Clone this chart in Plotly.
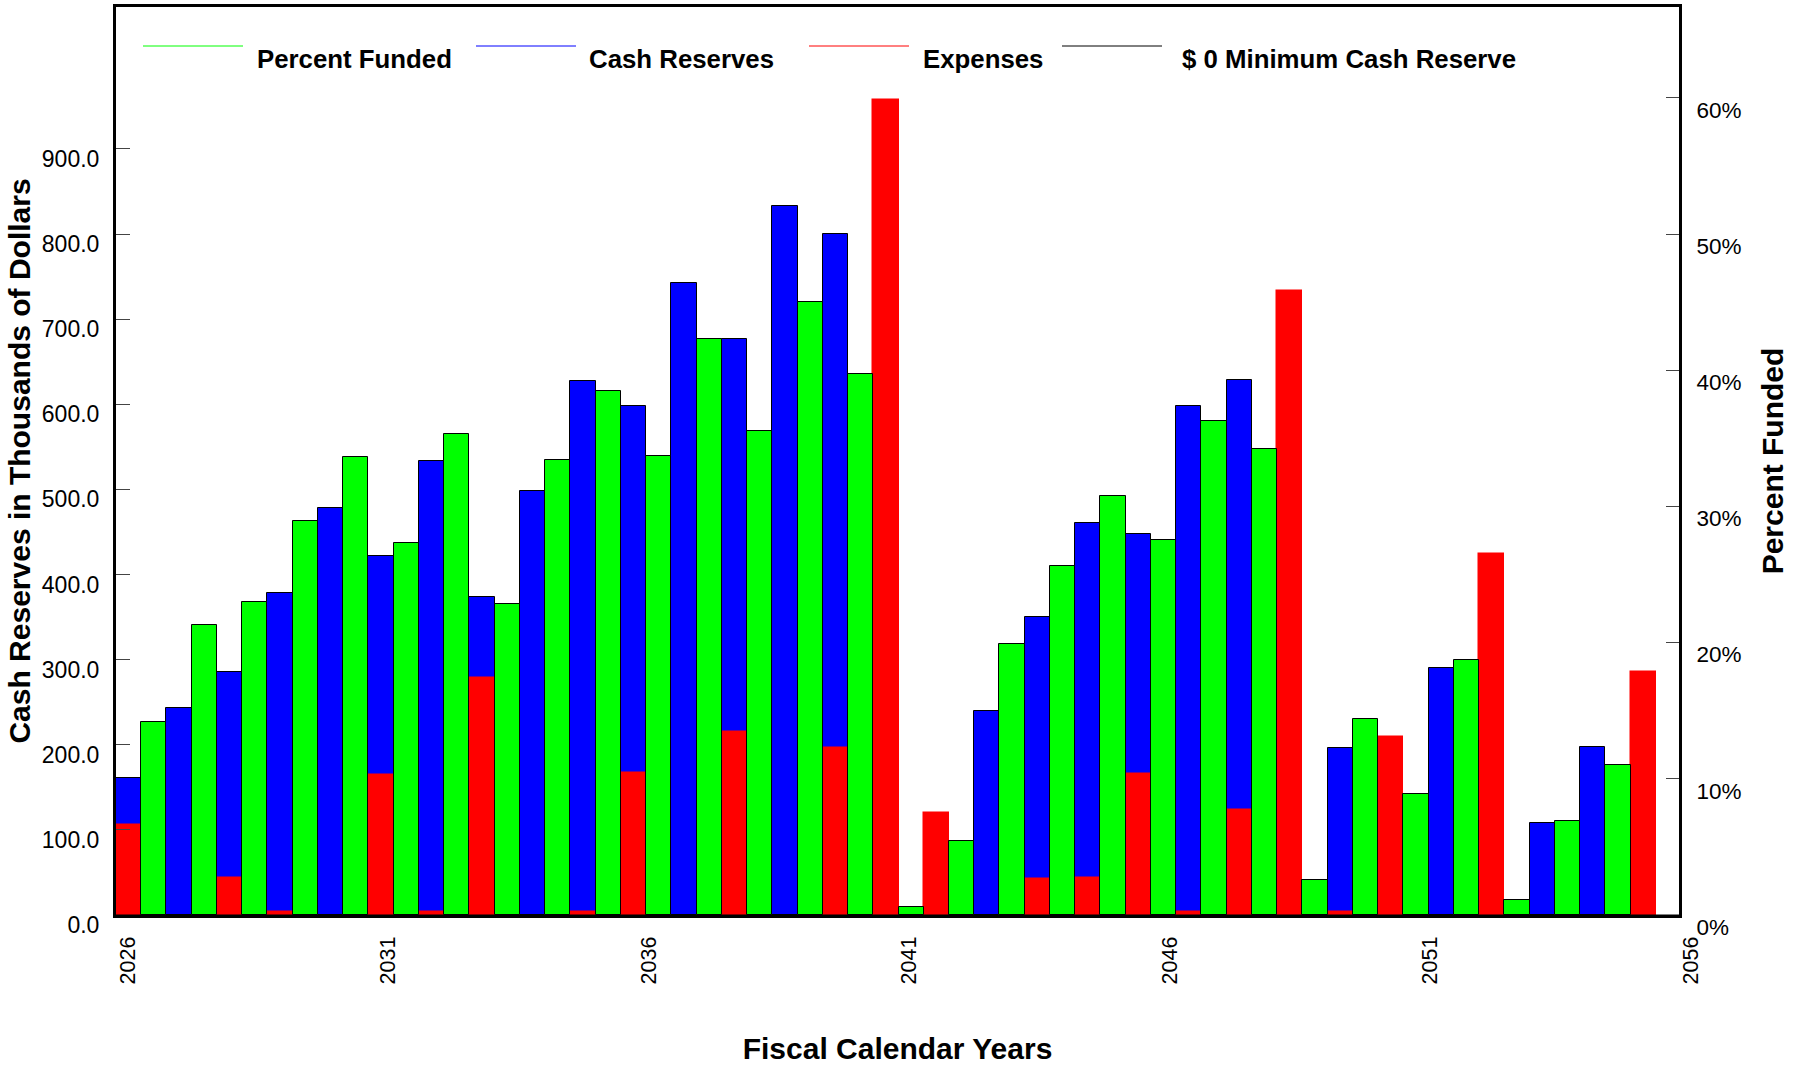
import plotly.graph_objects as go

# ---------------- data ----------------
years = list(range(2026, 2057))          # cash reserves / expenses years
cash_reserves = [161, 243, 286, 378, 478, 422, 533, 374, 498, 627,
                 598, 742, 677, 833, 800, 0, 0, 240, 350, 460,
                 448, 598, 628, 0, 196, 0, 290, 0, 108, 197, 0]
expenses = [106, 0, 44, 3, 0, 164, 3, 279, 0, 3,
            167, 0, 215, 0, 196, 958, 120, 0, 42, 43,
            166, 3, 123, 733, 3, 209, 0, 424, 0, 0, 285]
pf_years = list(range(2026, 2056))
percent_funded = [14.2, 21.3, 23.0, 28.9, 33.6, 27.3, 35.3, 22.8, 33.4, 38.5,
                  33.7, 42.3, 35.5, 45.0, 39.7, 0.6, 5.4, 19.9, 25.6, 30.8,
                  27.5, 36.3, 34.2, 2.6, 14.4, 8.9, 18.7, 1.1, 6.9, 11.0]
x_tick_years = [2026, 2031, 2036, 2041, 2046, 2051, 2056]
left_ticks = [0, 100, 200, 300, 400, 500, 600, 700, 800, 900]
right_ticks = [0, 10, 20, 30, 40, 50, 60]

# ---------------- layout constants ----------------
FONT = "Liberation Sans, Arial, sans-serif"
SLOT = 0.4845          # bar slot width in years
BLUE, GREEN, RED = "#0000FF", "#00FF00", "#FF0000"
W, H = 1797, 1068
ML, MR, MT, MB = 116, 118, 7, 153
PW, PH = W - ML - MR, H - MT - MB

x0 = years[0]
x_cash = [x0 + (2 * (y - x0) + 0.5) * SLOT for y in years]
x_pf = [x0 + (2 * (y - x0) + 1.5) * SLOT for y in pf_years]

def no_zero(values):
    # zero-height bars are not drawn (avoids a stray outline on the baseline)
    return [v if v else None for v in values]

fig = go.Figure()
fig.add_trace(go.Bar(x=x_cash, y=no_zero(cash_reserves), width=SLOT, name="Cash Reserves",
                     marker=dict(color=BLUE, line=dict(color="black", width=1))))
fig.add_trace(go.Bar(x=x_cash, y=no_zero(expenses), width=SLOT, name="Expenses",
                     marker=dict(color=RED, line=dict(color=RED, width=1.5))))
fig.add_trace(go.Bar(x=x_pf, y=percent_funded, width=SLOT, name="Percent Funded",
                     yaxis="y2",
                     marker=dict(color=GREEN, line=dict(color="black", width=1))))
fig.add_trace(go.Scatter(x=[x_tick_years[0], x_tick_years[-1]], y=[0, 0], mode="lines",
                         name="$ 0 Minimum Cash Reserve",
                         line=dict(color="black", width=1)))

fig.update_layout(
    width=W, height=H,
    margin=dict(l=ML, r=MR, t=MT, b=MB, autoexpand=False),
    plot_bgcolor="white", paper_bgcolor="white",
    barmode="overlay", bargap=0, showlegend=False,
    font=dict(family=FONT, color="black"),
    xaxis=dict(range=[x_tick_years[0], x_tick_years[-1]], tickmode="array",
               tickvals=x_tick_years, ticktext=[str(v) for v in x_tick_years],
               tickangle=-90, tickfont=dict(size=21.5, color="black"),
               ticks="", showgrid=False, zeroline=False,
               showline=True, linecolor="black", linewidth=3, mirror=True,
               ticklabelshift=12, ticklabelstandoff=10,
               title=dict(text="Fiscal Calendar Years", standoff=55,
                          font=dict(size=30, weight="bold", color="black"))),
    yaxis=dict(range=[0, 1066.67], tickmode="array", tickvals=left_ticks,
               ticktext=[f"{v:.1f}" for v in left_ticks],
               tickfont=dict(size=23, color="black"),
               ticks="inside", ticklen=14, tickwidth=1, tickcolor="#444",
               showgrid=False, zeroline=False,
               showline=True, linecolor="black", linewidth=3,
               ticklabelshift=10, ticklabelstandoff=9,
               title=dict(text="Cash Reserves in Thousands of Dollars", standoff=3,
                          font=dict(size=30, weight="bold", color="black"))),
    yaxis2=dict(range=[0, 66.667], overlaying="y", side="right",
                tickmode="array", tickvals=right_ticks,
                ticktext=[f"{v}%" for v in right_ticks],
                tickfont=dict(size=22.5, color="black"),
                ticks="inside", ticklen=13, tickwidth=1, tickcolor="#444",
                showgrid=False, zeroline=False,
                showline=True, linecolor="black", linewidth=3,
                ticklabelshift=12, ticklabelstandoff=10,
                title=dict(text="Percent Funded", standoff=22,
                           font=dict(size=30, weight="bold", color="black"))),
)

# ---------------- manual legend (long line samples) ----------------
def px_x(px):
    return (px - ML) / PW

def px_y(py):
    return (H - MB - py) / PH

legend_items = [
    ("Percent Funded", GREEN, 143, 255),
    ("Cash Reserves", BLUE, 476, 587),
    ("Expenses", RED, 809, 921),
    ("$ 0 Minimum Cash Reserve", "black", 1062, 1180),
]
for label, color, lx, tx in legend_items:
    fig.add_shape(type="line", xref="paper", yref="paper",
                  x0=px_x(lx), x1=px_x(lx + 100), y0=px_y(46), y1=px_y(46),
                  line=dict(color=color, width=1))
    fig.add_annotation(text=label, xref="paper", yref="paper",
                       x=px_x(tx), y=px_y(59), xanchor="left", yanchor="middle",
                       showarrow=False,
                       font=dict(family=FONT, size=25.8, weight="bold", color="black"))

fig.write_html("out.html", config={"displayModeBar": False},
               post_script="document.body.style.margin='0px';document.body.style.overflow='hidden';")
